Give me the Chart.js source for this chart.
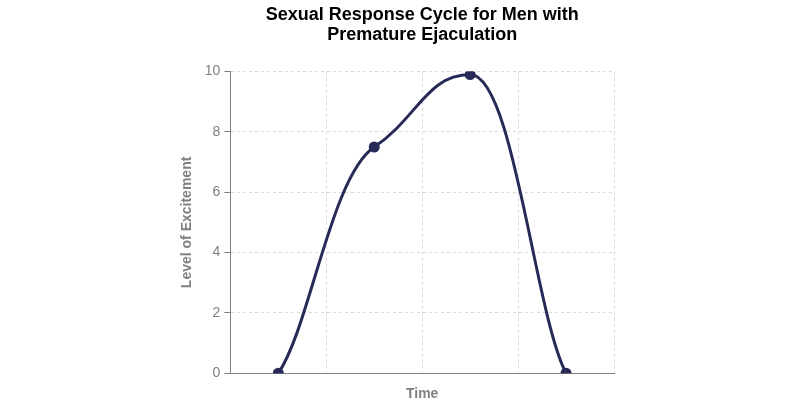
<!DOCTYPE html>
<html>
<head>
<meta charset="utf-8">
<script src="https://cdn.jsdelivr.net/npm/chart.js@4/dist/chart.umd.min.js"></script>
<style>
html,body{margin:0;padding:0;background:#fff;}
#wrap{width:800px;height:400px;}
</style>
</head>
<body>
<div id="wrap"><canvas id="c" width="800" height="400"></canvas></div>
<script>
const titleLines = ['Sexual Response Cycle for Men with', 'Premature Ejaculation'];
const categories = ['Start', 'Plateau', 'Orgasm', 'Resolution'];
const excitement = [0, 7.5, 9.9, 0];
const yTicks = [0, 2, 4, 6, 8, 10];
const xTitle = 'Time';
const yTitle = 'Level of Excitement';

const lineColor = '#272a57';
const gridColor = '#d9d9d9';
const axisColor = '#808080';
const font = '"Liberation Sans", Arial, Helvetica, sans-serif';

// smoothing style: tangent factors and handle lengths (fractions of the segment width)
const curveStyle = { endSlope: 0.62, innerSlope: 0.43, endHandle: 0.33, innerHandle: 0.45 };

const smoothCurve = {
  id: 'smoothCurve',
  beforeDatasetDraw(chart, args) {
    const meta = args.meta;
    const line = meta.dataset;
    if (!line) return;
    line.updateControlPoints(chart.chartArea, meta.iScale.axis);
    const pts = meta.data;
    const n = pts.length;
    if (n < 2) return;
    const area = chart.chartArea;
    const sec = [];
    for (let i = 0; i < n - 1; i++) sec.push((pts[i + 1].y - pts[i].y) / (pts[i + 1].x - pts[i].x));
    const m = pts.map((p, i) => {
      if (i === 0) return curveStyle.endSlope * sec[0];
      if (i === n - 1) return curveStyle.endSlope * sec[n - 2];
      if (Math.sign(sec[i - 1]) !== Math.sign(sec[i])) return 0;
      return curveStyle.innerSlope * (sec[i - 1] + sec[i]) / 2;
    });
    const clampY = (y) => Math.min(area.bottom, Math.max(area.top, y));
    pts.forEach((p, i) => {
      const f = (i === 0 || i === n - 1) ? curveStyle.endHandle : curveStyle.innerHandle;
      if (i > 0) {
        const dx = (p.x - pts[i - 1].x) * f;
        p.cp1x = p.x - dx; p.cp1y = clampY(p.y - dx * m[i]);
      }
      if (i < n - 1) {
        const dx = (pts[i + 1].x - p.x) * f;
        p.cp2x = p.x + dx; p.cp2y = clampY(p.y + dx * m[i]);
      }
    });
  }
};

new Chart(document.getElementById('c'), {
  type: 'line',
  data: {
    labels: categories,
    datasets: [{
      data: excitement,
      borderColor: lineColor,
      backgroundColor: lineColor,
      borderWidth: 3,
      pointRadius: 4,
      pointHoverRadius: 4,
      tension: 0.4,
      fill: false
    }]
  },
  plugins: [smoothCurve],
  options: {
    responsive: false,
    animation: false,
    layout: { padding: { left: 179, right: 186, top: 0, bottom: 0 } },
    plugins: {
      legend: { display: false },
      tooltip: { enabled: false },
      title: {
        display: true,
        fullSize: false,
        text: titleLines,
        color: '#000',
        font: { family: font, size: 18, weight: 'bold', lineHeight: 1.1 },
        padding: { top: 5, bottom: 27 }
      }
    },
    scales: {
      x: {
        type: 'category',
        offset: true,
        grid: { offset: true, color: gridColor, drawTicks: false, lineWidth: 1 },
        border: { color: axisColor, width: 1, dash: [3, 3] },
        ticks: { display: false },
        title: { display: true, text: xTitle, color: axisColor, font: { family: font, size: 14, weight: 'bold' }, padding: { top: 13, bottom: -3 } }
      },
      y: {
        min: 0, max: 10,
        afterBuildTicks: (s) => { s.ticks = yTicks.map(v => ({ value: v })); },
        grid: { color: gridColor, tickColor: axisColor, tickLength: 6, tickBorderDash: [] },
        border: { color: axisColor, width: 1, dash: [3, 3] },
        ticks: { color: axisColor, padding: 4, font: { family: font, size: 14 } },
        title: { display: true, text: yTitle, color: axisColor, font: { family: font, size: 14, weight: 'bold' }, padding: { top: 0, bottom: 5 } }
      }
    }
  }
});
</script>
</body>
</html>
